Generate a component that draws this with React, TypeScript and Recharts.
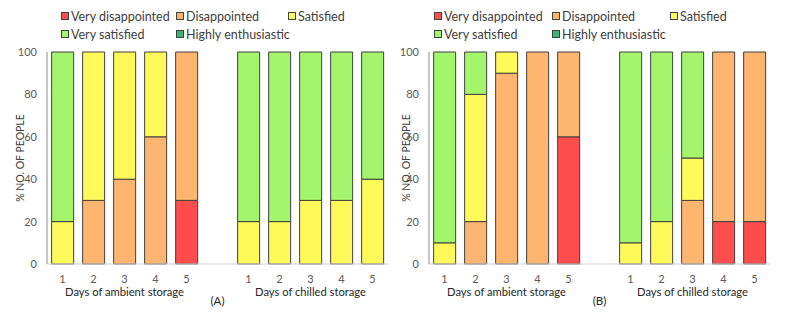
import React from 'react';
import { BarChart, Bar, XAxis, YAxis } from 'recharts';

const categories = ['a1', 'a2', 'a3', 'a4', 'a5', 'gap', 'c1', 'c2', 'c3', 'c4', 'c5'];
const dayLabels = ['1', '2', '3', '4', '5', '', '1', '2', '3', '4', '5'];
const groupLabels: Record<number, string> = { 2: 'Days of ambient storage', 8: 'Days of chilled storage' };
const yTicks = [0, 20, 40, 60, 80, 100];

const seriesNames = ['Very disappointed', 'Disappointed', 'Satisfied', 'Very satisfied', 'Highly enthusiastic'];
const seriesKeys = ['vd', 'd', 's', 'vs', 'he'];
const seriesColors = ['#FF4D4D', '#FDB56F', '#FFFA5A', '#A3F56C', '#3CB371'];

// Panel A
const A_veryDisappointed = [0, 0, 0, 0, 30, null, 0, 0, 0, 0, 0];
const A_disappointed = [0, 30, 40, 60, 70, null, 0, 0, 0, 0, 0];
const A_satisfied = [20, 70, 60, 40, 0, null, 20, 20, 30, 30, 40];
const A_verySatisfied = [80, 0, 0, 0, 0, null, 80, 80, 70, 70, 60];
const A_highlyEnthusiastic = [0, 0, 0, 0, 0, null, 0, 0, 0, 0, 0];

// Panel B
const B_veryDisappointed = [0, 0, 0, 0, 60, null, 0, 0, 0, 20, 20];
const B_disappointed = [0, 20, 90, 100, 40, null, 0, 0, 30, 80, 80];
const B_satisfied = [10, 60, 10, 0, 0, null, 10, 20, 20, 0, 0];
const B_verySatisfied = [90, 20, 0, 0, 0, null, 90, 80, 50, 0, 0];
const B_highlyEnthusiastic = [0, 0, 0, 0, 0, null, 0, 0, 0, 0, 0];

const FONT = 'Lato, "Open Sans", sans-serif';

function buildData(cols: (number | null)[][]) {
  return categories.map((c, i) => {
    const row: any = { cat: c };
    seriesKeys.forEach((k, j) => {
      row[k] = cols[j][i];
    });
    return row;
  });
}

const dataA = buildData([A_veryDisappointed, A_disappointed, A_satisfied, A_verySatisfied, A_highlyEnthusiastic]);
const dataB = buildData([B_veryDisappointed, B_disappointed, B_satisfied, B_verySatisfied, B_highlyEnthusiastic]);

const makeTick = (panelLabel: string) => (props: any) => {
  const { x, y, payload } = props;
  const idx = categories.indexOf(payload.value);
  return (
    <g>
      <text x={x} y={y + 11} textAnchor="middle" fontSize={11} fill="#595959" fontFamily={FONT}>
        {dayLabels[idx]}
      </text>
      {groupLabels[idx] && (
        <text x={x} y={y + 24} textAnchor="middle" fontSize={11.2} fill="#262626" fontFamily={FONT}>
          {groupLabels[idx]}
        </text>
      )}
      {idx === 5 && (
        <text x={x} y={y + 33} textAnchor="middle" fontSize={11.5} fill="#262626" fontFamily={FONT}>
          {panelLabel}
        </text>
      )}
    </g>
  );
};

const YLabel = (props: any) => {
  const { viewBox } = props;
  const cy = viewBox.y + viewBox.height / 2;
  const cx = 20;
  return (
    <text
      x={cx}
      y={cy}
      transform={`rotate(-90 ${cx} ${cy})`}
      textAnchor="middle"
      dominantBaseline="central"
      fontSize={10.5}
      fill="#404040"
      fontFamily={FONT}
    >
      % NO. OF PEOPLE
    </text>
  );
};

function LegendBox(props: { xs: number[] }) {
  const xs = props.xs;
  const pos = [
    [xs[0], 16],
    [xs[1], 16],
    [xs[2], 16],
    [xs[0], 34],
    [xs[1], 34],
  ];
  return (
    <>
      {seriesNames.map((n, i) => (
        <div
          key={n}
          style={{
            position: 'absolute',
            left: pos[i][0],
            top: pos[i][1] - 9,
            height: 18,
            display: 'flex',
            alignItems: 'center',
            fontFamily: FONT,
            fontSize: 12.5,
            color: '#404040',
            whiteSpace: 'nowrap',
          }}
        >
          <span
            style={{
              display: 'inline-block',
              width: 6,
              height: 6,
              background: seriesColors[i],
              border: '1px solid #404040',
              marginRight: 2,
            }}
          />
          {n}
        </div>
      ))}
    </>
  );
}

function Panel(props: { data: any[]; left: number; mLeft: number; mRight: number; label: string; legendXs: number[] }) {
  const { data, left, mLeft, mRight, label, legendXs } = props;
  return (
    <div style={{ position: 'absolute', left, top: 0, width: 400, height: 316 }}>
      <BarChart
        width={400}
        height={316}
        data={data}
        margin={{ top: 52, right: mRight, bottom: 2, left: mLeft }}
        barCategoryGap="15%"
      >
        <XAxis
          dataKey="cat"
          interval={0}
          height={50}
          tickLine={false}
          axisLine={{ stroke: '#d0d0d0' }}
          tick={makeTick(label)}
        />
        <YAxis
          domain={[0, 100]}
          ticks={yTicks}
          width={30}
          tickLine={false}
          tickMargin={4}
          axisLine={{ stroke: '#8c8c8c' }}
          tick={{ fontSize: 11, fill: '#595959', fontFamily: FONT }}
          label={<YLabel />}
        />
        <YAxis
          yAxisId="frame"
          orientation="right"
          domain={[0, 100]}
          width={0}
          tick={false}
          tickLine={false}
          axisLine={{ stroke: '#8c8c8c' }}
        />
        {seriesKeys.map((k, i) => (
          <Bar
            key={k}
            dataKey={k}
            name={seriesNames[i]}
            stackId="s"
            fill={seriesColors[i]}
            stroke="#3f3f3f"
            strokeWidth={1}
            isAnimationActive={false}
          />
        ))}
      </BarChart>
      <LegendBox xs={legendXs} />
    </div>
  );
}

export default function App() {
  return (
    <div style={{ position: 'absolute', left: 0, top: 0, width: 786, height: 316, background: '#fff' }}>
      <Panel data={dataA} left={0} mLeft={17} mRight={12} label="(A)" legendXs={[61, 176, 288]} />
      <Panel data={dataB} left={386} mLeft={13} mRight={16} label="(B)" legendXs={[48, 166, 284]} />
    </div>
  );
}
